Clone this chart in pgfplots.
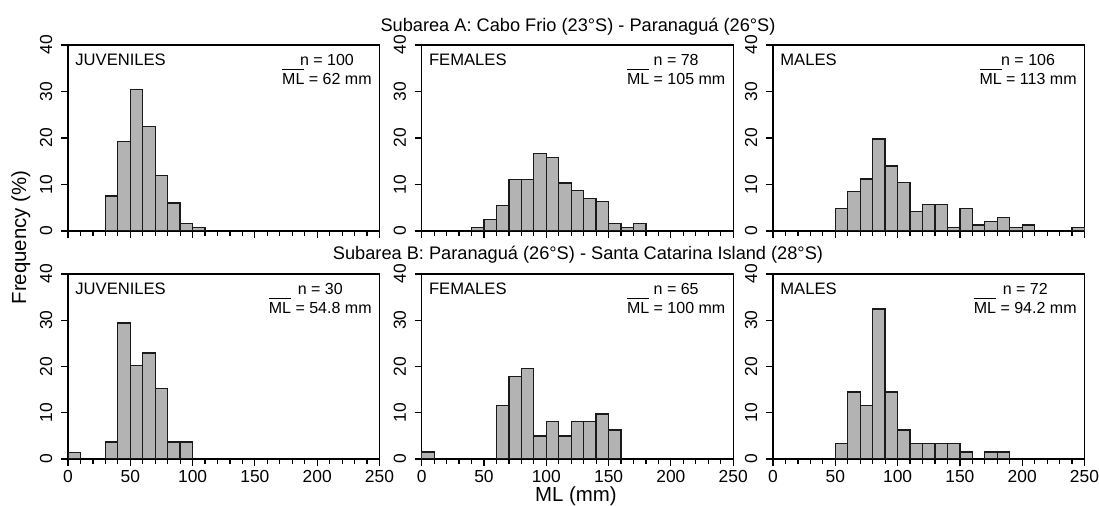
\documentclass[border=0pt]{standalone}
\usepackage{fontspec}
\setmainfont{Liberation Sans}
\usepackage{pgfplots}
\pgfplotsset{compat=1.18}

\definecolor{barfill}{HTML}{B3B3B3}
\definecolor{baredge}{HTML}{1A1A1A}

% bar over "ML" for the mean length
\newlength\mlw
\newcommand\mlbar{\settowidth\mlw{ML}\makebox[0pt][l]{\raisebox{7.4pt}{\rule{\mlw}{0.5pt}}}ML}

\pgfplotsset{
  histpanel/.style={
    scale only axis, width=155.75pt,
    xmin=0, xmax=250, ymin=0, ymax=40,
    xtick={0,50,...,250}, minor xtick={0,10,...,250},
    ytick={0,10,...,40},
    tick align=outside, tick pos=left,
    major tick length=3.6pt, minor tick length=2.5pt,
    axis line style={line width=0.6pt},
    every tick/.style={black, line width=0.6pt},
    tick label style={font=\fontsize{8.7}{10}\selectfont},
    /pgf/number format/assume math mode=true,
    yticklabel style={rotate=90, anchor=south, inner sep=0pt},
    yticklabel shift=4pt,
    xticklabel style={anchor=north, inner sep=0pt},
    xticklabel shift=2pt,
    anchor=north west,
  },
  toprow/.style={histpanel, height=93pt, xticklabels={}},
  botrow/.style={histpanel, height=92.5pt},
  hist/.style={ybar, bar width=10, bar shift=0pt, fill=barfill, draw=baredge, line width=0.65pt},
}

\newcommand\panelname[1]{\node[anchor=base west, inner sep=0pt, font=\fontsize{8.3}{9.5}\selectfont]
  at (rel axis cs:0,1) [xshift=3.5pt, yshift=-10.5pt] {#1};}
\newcommand\panelstats[2]{\node[anchor=base east, inner sep=0pt, font=\fontsize{8}{9.5}\selectfont]
  at (rel axis cs:1,1) [xshift=-3.75pt, yshift=-10.5pt]
  {\begin{tabular}[t]{@{}c@{}}n = #1\\\smash{\mlbar} = #2 mm\end{tabular}};}

\begin{document}
\begin{tikzpicture}
\path[use as bounding box] (0,0) rectangle (549.5pt,-253pt);

% ---- Subarea A ----
\begin{axis}[toprow, at={(34pt,-22.5pt)}]
\addplot[hist] coordinates {(35,7.5) (45,19.3) (55,30.5) (65,22.4) (75,12.0) (85,6.0) (95,1.6) (105,0.7)};
\panelname{JUVENILES}
\panelstats{100}{62}
\end{axis}

\begin{axis}[toprow, at={(210.85pt,-22.5pt)}]
\addplot[hist] coordinates {(45,0.7) (55,2.4) (65,5.5) (75,11.0) (85,11.0) (95,16.7) (105,15.8) (115,10.3) (125,8.7) (135,7.0) (145,6.4) (155,1.6) (165,0.7) (175,1.6)};
\panelname{FEMALES}
\panelstats{78}{105}
\end{axis}

\begin{axis}[toprow, at={(386.5pt,-22.5pt)}]
\addplot[hist] coordinates {(55,4.8) (65,8.5) (75,11.2) (85,19.8) (95,14.0) (105,10.5) (115,4.2) (125,5.7) (135,5.7) (145,0.7) (155,4.8) (165,1.3) (175,2.0) (185,2.9) (195,0.7) (205,1.3) (245,0.7)};
\panelname{MALES}
\panelstats{106}{113}
\end{axis}

% ---- Subarea B ----
\begin{axis}[botrow, at={(34pt,-137pt)}]
\addplot[hist] coordinates {(5,1.4) (35,3.7) (45,29.4) (55,20.2) (65,22.9) (75,15.3) (85,3.7) (95,3.7)};
\panelname{JUVENILES}
\panelstats{30}{54.8}
\end{axis}

\begin{axis}[botrow, at={(210.85pt,-137pt)}]
\addplot[hist] coordinates {(5,1.5) (65,11.5) (75,17.9) (85,19.5) (95,5.0) (105,8.1) (115,5.0) (125,8.1) (135,8.1) (145,9.7) (155,6.3)};
\panelname{FEMALES}
\panelstats{65}{100}
\end{axis}

\begin{axis}[botrow, at={(386.5pt,-137pt)}]
\addplot[hist] coordinates {(55,3.4) (65,14.5) (75,11.5) (85,32.4) (95,14.5) (105,6.3) (115,3.3) (125,3.3) (135,3.3) (145,3.3) (155,1.5) (175,1.5) (185,1.5)};
\panelname{MALES}
\panelstats{72}{94.2}
\end{axis}

% ---- titles and axis labels ----
\node[anchor=base, inner sep=0pt, font=\fontsize{9.1}{11}\selectfont] at (289pt,-15.6pt)
  {Subarea A: Cabo Frio (23°S) - Paranaguá (26°S)};
\node[anchor=base, inner sep=0pt, font=\fontsize{9.1}{11}\selectfont] at (289pt,-129.8pt)
  {Subarea B: Paranaguá (26°S) - Santa Catarina Island (28°S)};
\node[anchor=base, rotate=90, inner sep=0pt, font=\fontsize{10.2}{12}\selectfont] at (13pt,-118.75pt)
  {Frequency (\%)};
\node[anchor=base, inner sep=0pt, font=\fontsize{10.2}{12}\selectfont] at (288pt,-250.6pt)
  {ML (mm)};
\end{tikzpicture}
\end{document}
